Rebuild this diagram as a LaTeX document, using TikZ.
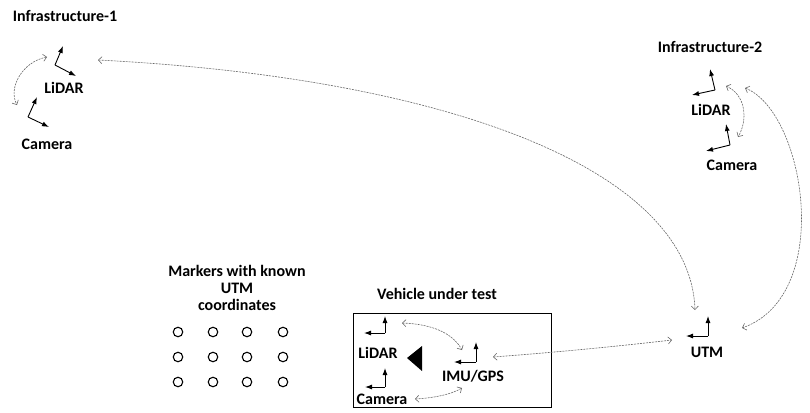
\documentclass[tikz,border=0pt]{standalone}
\usepackage{fontspec}
\setmainfont{Carlito}
\usetikzlibrary{arrows.meta}
\definecolor{linkgray}{RGB}{105,105,105}
\begin{document}
\begin{tikzpicture}[x=1pt,y=-1pt,
  lbl/.style={font=\bfseries\fontsize{16}{17}\selectfont, inner sep=0pt, align=center},
  axis/.style={line width=0.9pt, -{Latex[length=7pt,width=5pt]}},
  link/.style={dash pattern=on 2pt off 1pt, linkgray, line width=0.6pt,
    {Straight Barb[length=3.5pt,width=7pt]}-{Straight Barb[length=3.5pt,width=7pt]}},
  marker/.style={circle, draw, line width=1.1pt, minimum size=9.5pt, inner sep=0pt}]
\useasboundingbox (0,0) rectangle (810,412);

% ---------- Infrastructure-1 ----------
\node[lbl] (inf1) at (65,16) {Infrastructure-1};
\coordinate (l1o) at (55,65);
\coordinate (l1a) at (63,46);
\coordinate (l1b) at (76,76);
\draw[axis] (l1o) -- (l1a);
\draw[axis] (l1o) -- (l1b);
\node[lbl] (l1lbl) at (64,88) {LiDAR};
\coordinate (c1o) at (28,117);
\coordinate (c1a) at (37,97);
\coordinate (c1b) at (49,127);
\draw[axis] (c1o) -- (c1a);
\draw[axis] (c1o) -- (c1b);
\node[lbl] (c1lbl) at (47,144) {Camera};
\coordinate (l1in) at (47,57);
\coordinate (c1in) at (17,105);
\draw[link] (l1in) .. controls (22,62) and (8,88) .. (c1in);

% ---------- Infrastructure-2 ----------
\node[lbl] (inf2) at (710,47) {Infrastructure-2};
\coordinate (l2o) at (715,90);
\coordinate (l2a) at (710,69);
\coordinate (l2b) at (692,95);
\draw[axis] (l2o) -- (l2a);
\draw[axis] (l2o) -- (l2b);
\node[lbl] (l2lbl) at (711,110) {LiDAR};
\coordinate (c2o) at (730,145);
\coordinate (c2a) at (726,124);
\coordinate (c2b) at (706,151);
\draw[axis] (c2o) -- (c2a);
\draw[axis] (c2o) -- (c2b);
\node[lbl] (c2lbl) at (732,165) {Camera};
\coordinate (l2in) at (726,86);
\coordinate (c2in) at (738,137);
\draw[link] (l2in) .. controls (746,95) and (748,120) .. (c2in);

% ---------- UTM ----------
\coordinate (uo) at (708,336);
\coordinate (ua) at (708,316);
\coordinate (ub) at (686,336);
\draw[axis] (uo) -- (ua);
\draw[axis] (uo) -- (ub);
\node[lbl] (ulbl) at (707,352) {UTM};
\coordinate (uleft) at (672,340);
\coordinate (utop) at (695,310);
\coordinate (uright) at (742,328);

% ---------- Markers ----------
\node[lbl] (mk) at (237,288) {Markers with known\\UTM\\coordinates};
\foreach \r/\y in {1/332,2/357,3/382}
  \foreach \c/\x in {1/178,2/213,3/247,4/283}
    \node[marker] (m\r\c) at (\x,\y) {};

% ---------- Vehicle under test ----------
\node[lbl] (veh) at (437,294) {Vehicle under test};
\draw[line width=0.9pt] (353,313) rectangle (551,407);
\coordinate (vlo) at (385,333);
\coordinate (vla) at (385,316);
\coordinate (vlb) at (364,333);
\draw[axis] (vlo) -- (vla);
\draw[axis] (vlo) -- (vlb);
\node[lbl] (vllbl) at (378,353) {LiDAR};
\coordinate (vco) at (385,387);
\coordinate (vca) at (385,368);
\coordinate (vcb) at (365,387);
\draw[axis] (vco) -- (vca);
\draw[axis] (vco) -- (vcb);
\node[lbl] (vclbl) at (382,399) {Camera};
\coordinate (vio) at (476,362);
\coordinate (via) at (476,342);
\coordinate (vib) at (454,362);
\draw[axis] (vio) -- (via);
\draw[axis] (vio) -- (vib);
\node[lbl] (vilbl) at (473,376) {IMU/GPS};
\fill (407,358) -- (422,346) -- (422,371) -- cycle;

\coordinate (vlout) at (402,323);
\coordinate (viin1) at (462,350);
\coordinate (vcout) at (415,399);
\coordinate (viin2) at (462,388);
\coordinate (viout) at (493,357);
\draw[link] (vlout) .. controls (430,324) and (452,332) .. (viin1);
\draw[link] (vcout) .. controls (432,398) and (450,395) .. (viin2);
\draw[link] (viout) .. controls (560,352) and (620,346) .. (uleft);

% ---------- long links to UTM ----------
\coordinate (l1out) at (98,60);
\draw[link] (l1out) .. controls (450,78) and (690,170) .. (utop);
\coordinate (l2out) at (745,88);
\draw[link] (l2out) .. controls (805,112) and (835,295) .. (uright);
\end{tikzpicture}
\end{document}
